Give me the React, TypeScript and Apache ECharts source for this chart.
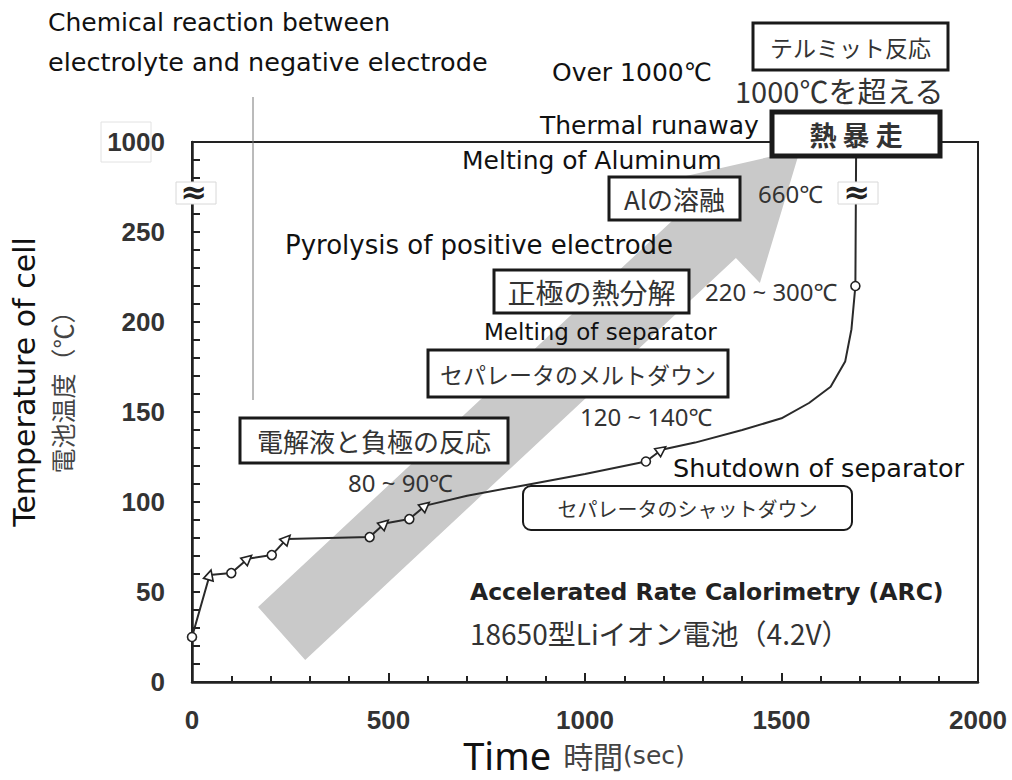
import React, { useEffect, useRef } from "react";
import * as echarts from "echarts";

// Curve (time in sec, real temperature in °C) and marker type per point
const times = [0, 45, 100, 142, 203, 241, 452, 490, 553, 594, 700, 850, 1000, 1155, 1195, 1280, 1400, 1500, 1570, 1625, 1662, 1678, 1688, 1690];
const temps = [25, 59.5, 60.5, 68.5, 70.5, 79.5, 80.5, 88, 90.5, 98, 103.5, 109.5, 115.5, 122.5, 129, 133, 140, 146.5, 155, 164, 178, 196, 220, 1000];
const markers = ["o", "^", "o", "^", "o", "^", "o", "^", "o", "^", "", "", "", "o", "^", "", "", "", "", "", "", "", "o", ""];

// Big gray arrow outline (time, displayed axis value)
const arrowT = [168, 1262, 1201, 1547, 1445, 1384, 288];
const arrowV = [41.7, 264.4, 278.3, 295.6, 221.7, 235.6, 12.2];

const xMax = 2000;
const yMax = 300; // displayed top of broken axis = 1000°C
const topLabel = "1000";

// broken axis: 660°C sits at 272, 1000°C at 300
function disp(v: number): number {
  if (v <= 260) return v;
  return 272 + ((v - 660) / 340) * 28;
}

const FONT = "'DejaVu Sans', sans-serif";
const JFONT = "'Noto Sans CJK JP', sans-serif";
const NFONT = "'Noto Sans', sans-serif";

function box(x1: number, y1: number, x2: number, y2: number, text: string, size: number, opts: any = {}) {
  return [
    {
      type: "rect",
      shape: { x: x1, y: y1, width: x2 - x1, height: y2 - y1, r: opts.r || 0 },
      style: { fill: "#fff", stroke: "#1a1a1a", lineWidth: opts.lw || 3 },
      z: 10,
    },
    {
      type: "text",
      x: (x1 + x2) / 2,
      y: (y1 + y2) / 2,
      style: {
        text,
        font: `${opts.bold ? "bold " : ""}${size}px ${JFONT}`,
        fill: opts.color || "#333",
        align: "center",
        verticalAlign: "middle",
      },
      z: 11,
    },
  ];
}

function label(x: number, y: number, text: string, size: number, opts: any = {}) {
  return {
    type: "text",
    x,
    y,
    style: {
      text,
      font: `${opts.bold ? "bold " : ""}${size}px ${opts.font || FONT}`,
      fill: opts.color || "#111",
      align: opts.align || "left",
      verticalAlign: "middle",
    },
    rotation: opts.rotation || 0,
    z: 12,
  };
}

export default function App() {
  const ref = useRef<HTMLDivElement>(null);
  useEffect(() => {
    if (!ref.current) return;
    const chart = echarts.init(ref.current, undefined, { renderer: "svg" });

    const lineData = times.map((t, i) => {
      const m = markers[i];
      let rot = 0;
      if (m === "^" && i > 0) {
        const dx = (times[i] - times[i - 1]) * 0.393;
        const dy = (disp(temps[i]) - disp(temps[i - 1])) * 1.8;
        rot = (Math.atan2(dy, dx) * 180) / Math.PI - 90;
      }
      return {
        value: [t, disp(temps[i])],
        symbol: m === "o" ? "circle" : m === "^" ? "triangle" : "none",
        symbolSize: m === "^" ? 10 : 9,
        symbolRotate: rot,
      };
    });

    const graphics: any[] = [
      // break markers and faint label boxes
      { type: "rect", shape: { x: 101, y: 122, width: 50, height: 40 }, style: { fill: "none", stroke: "#e2e2e2", lineWidth: 1 }, z: 9 },
      { type: "rect", shape: { x: 176, y: 182, width: 40, height: 22 }, style: { fill: "#fff", stroke: "#d8d8d8", lineWidth: 1 }, z: 10 },
      label(194, 192, "≈", 32, { bold: true, align: "center", color: "#222" }),
      { type: "rect", shape: { x: 838, y: 182, width: 40, height: 22 }, style: { fill: "#fff", stroke: "#d8d8d8", lineWidth: 1 }, z: 10 },
      label(857, 192, "≈", 32, { bold: true, align: "center", color: "#222" }),
      // thin leader line
      { type: "line", shape: { x1: 253, y1: 97, x2: 253, y2: 400 }, style: { stroke: "#777", lineWidth: 1 }, z: 5 },
      // boxes
      ...box(753, 23, 948, 70, "テルミット反応", 23),
      ...box(772, 112, 940, 156, "熱 暴 走", 27, { bold: true, lw: 5 }),
      ...box(609, 177, 740, 220, "Alの溶融", 26),
      ...box(494, 270, 689, 313, "正極の熱分解", 28),
      ...box(428, 350, 728, 397, "セパレータのメルトダウン", 23),
      ...box(240, 418, 508, 463, "電解液と負極の反応", 26),
      ...box(523, 486, 852, 530, "セパレータのシャットダウン", 20, { r: 8, lw: 2 }),
      // texts
      label(48, 22, "Chemical reaction between", 25),
      label(48, 62, "electrolyte and negative electrode", 25.5),
      label(552, 72, "Over 1000℃", 25),
      label(735, 90, "1000℃を超える", 29, { color: "#333", font: JFONT }),
      label(540, 125, "Thermal runaway", 25),
      label(462, 160, "Melting of Aluminum", 25),
      label(758, 193, "660℃", 24, { color: "#333", font: NFONT }),
      label(285, 245, "Pyrolysis of positive electrode", 26),
      label(705, 291, "220 ~ 300℃", 24, { color: "#333", font: NFONT }),
      label(484, 332, "Melting of separator", 23),
      label(580, 416, "120 ~ 140℃", 24, { color: "#333", font: NFONT }),
      label(348, 482, "80 ~ 90℃", 24, { color: "#333", font: NFONT }),
      label(673, 468, "Shutdown of separator", 25.5),
      label(470, 592, "Accelerated Rate Calorimetry (ARC)", 23.5, { bold: true, color: "#222" }),
      label(470, 633, "18650型Liイオン電池（4.2V）", 28, { color: "#333", font: JFONT }),
      // y axis names
      label(24, 382, "Temperature of cell", 30, { align: "center", rotation: Math.PI / 2, font: FONT }),
      label(62, 386, "電池温度（℃）", 25, { align: "center", rotation: Math.PI / 2, color: "#444", font: JFONT }),
      // x axis name
      {
        type: "text",
        x: 574,
        y: 755,
        z: 12,
        style: {
          text: "{a|Time}{b|時間}{c|(sec)}",
          align: "center",
          verticalAlign: "middle",
          rich: {
            a: { fontSize: 38, lineHeight: 40, fontFamily: NFONT, fill: "#111", verticalAlign: "middle", padding: [0, 12, 0, 0] },
            b: { fontSize: 30, lineHeight: 40, fontFamily: JFONT, fill: "#444", verticalAlign: "middle" },
            c: { fontSize: 25, lineHeight: 40, fontFamily: FONT, fill: "#444", verticalAlign: "middle" },
          },
        },
      },
    ];

    chart.setOption({
      animation: false,
      backgroundColor: "#fff",
      grid: {
        left: 192,
        right: 34,
        top: 142,
        bottom: 98,
        show: true,
        borderColor: "#222",
        borderWidth: 2,
        backgroundColor: "transparent",
      },
      xAxis: {
        type: "value",
        min: 0,
        max: xMax,
        interval: 500,
        axisLine: { lineStyle: { color: "#222", width: 2.5 } },
        axisTick: { inside: false, length: -9, lineStyle: { color: "#222", width: 2 } },
        minorTick: { show: true, splitNumber: 5, length: -6, lineStyle: { color: "#222", width: 2 } },
        splitLine: { show: false },
        axisLabel: {
          margin: 25,
          fontSize: 26,
          fontWeight: "bold",
          color: "#333",
          fontFamily: "'Liberation Sans', sans-serif",
          formatter: (v: number) => String(v),
        },
      },
      yAxis: {
        type: "value",
        min: 0,
        max: yMax,
        interval: 50,
        axisLine: { lineStyle: { color: "#222", width: 2.5 } },
        axisTick: { inside: false, length: -8, lineStyle: { color: "#222", width: 2 } },
        minorTick: { show: true, splitNumber: 5, length: -8, lineStyle: { color: "#222", width: 2 } },
        splitLine: { show: false },
        axisLabel: {
          margin: 27,
          fontSize: 26,
          fontWeight: "bold",
          color: "#333",
          fontFamily: "'Liberation Sans', sans-serif",
          formatter: (v: number) => (v === yMax ? topLabel : v > 250 ? "" : String(v)),
        },
      },
      series: [
        {
          type: "custom",
          silent: true,
          z: 1,
          data: [[0, 0]],
          renderItem: (params: any, api: any) => ({
            type: "polygon",
            shape: { points: arrowT.map((t, i) => api.coord([t, arrowV[i]])) },
            style: { fill: "#c9c9c9" },
          }),
        },
        {
          type: "line",
          z: 3,
          data: lineData,
          showSymbol: true,
          lineStyle: { color: "#2a2a2a", width: 2 },
          itemStyle: { color: "#fff", borderColor: "#222", borderWidth: 1.6 },
        },
      ],
      graphic: graphics,
    });
    return () => chart.dispose();
  }, []);
  return <div ref={ref} style={{ position: "absolute", left: 0, top: 0, width: 1012, height: 780, background: "#fff" }} />;
}
